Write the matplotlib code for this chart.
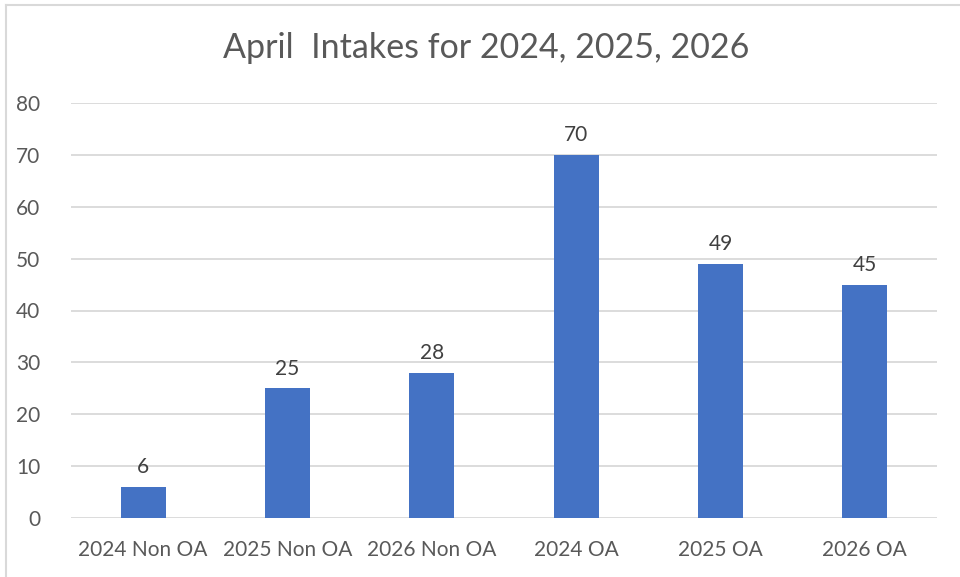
import matplotlib.pyplot as plt
from matplotlib.lines import Line2D

# April intake counts by year and group
categories = ['2024 Non OA', '2025 Non OA', '2026 Non OA', '2024 OA', '2025 OA', '2026 OA']
intakes = [6, 25, 28, 70, 49, 45]
yticks = [0, 10, 20, 30, 40, 50, 60, 70, 80]

bar_color = '#4472C4'
text_color = '#595959'
grid_color = '#D9D9D9'

plt.rcParams['font.family'] = ['Lato', 'DejaVu Sans']

fig = plt.figure(figsize=(9.6, 5.77), dpi=100)
ax = fig.add_axes([71/960, 1 - 518/577, 866/960, 415/577])

x = range(len(categories))
bars = ax.bar(x, intakes, width=0.31, color=bar_color, zorder=3)

for b, v in zip(bars, intakes):
    ax.annotate(str(v), (b.get_x() + b.get_width()/2, v), xytext=(0, 7),
                textcoords='offset points', ha='center', va='bottom',
                fontsize=15, color='#404040')

ax.set_xlim(-0.5, len(categories) - 0.5)
ax.set_ylim(0, 80)
ax.set_yticks(yticks)
ax.set_xticks(list(x))
ax.set_xticklabels(categories)
ax.tick_params(axis='both', length=0, labelsize=15, labelcolor=text_color)
ax.tick_params(axis='y', pad=22)
ax.tick_params(axis='x', pad=16)
ax.grid(axis='y', color=grid_color, linewidth=1.3, zorder=0)
for s in ax.spines.values():
    s.set_visible(False)

fig.text(486/960, 1 - 48/577, 'April  Intakes for 2024, 2025, 2026', ha='center', va='center',
         fontsize=24.5, color=text_color)

# chart frame edges (left and top)
fig.add_artist(Line2D([6/960, 6/960], [0, 1 - 5/577], color=grid_color, linewidth=1.5, transform=fig.transFigure))
fig.add_artist(Line2D([6/960, 1], [1 - 5/577, 1 - 5/577], color=grid_color, linewidth=1.5, transform=fig.transFigure))

fig.savefig('out.png', dpi=100)
